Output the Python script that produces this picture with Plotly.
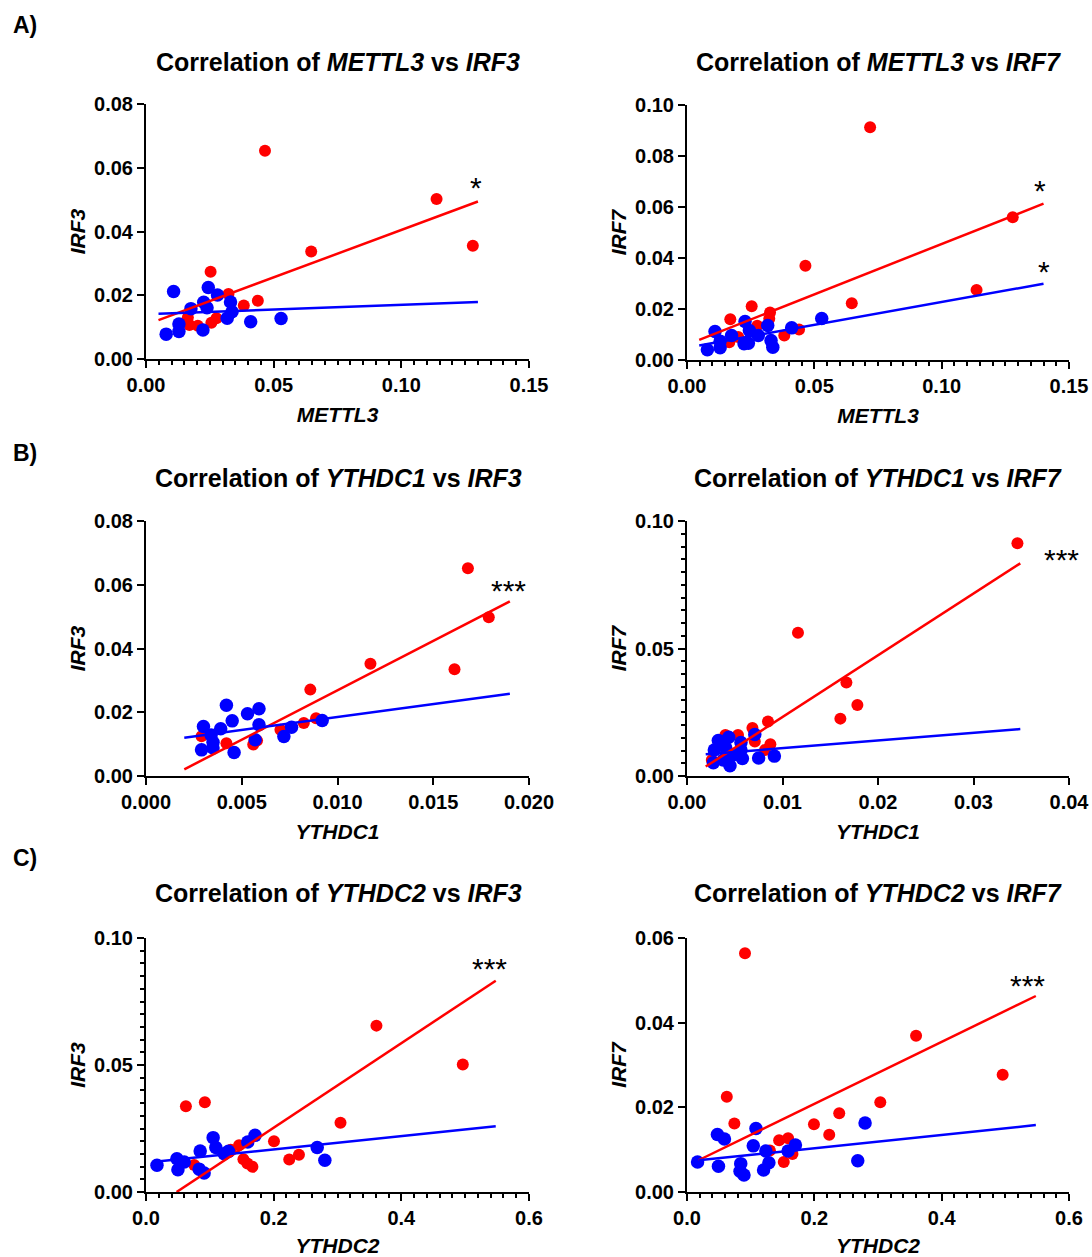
import plotly.graph_objects as go

# ---------------- Data ----------------
# Panel A1: METTL3 vs IRF3
a1_red_x = [0.0466, 0.1138, 0.1280, 0.0647, 0.0253, 0.0323, 0.0383, 0.0438, 0.0164, 0.0170, 0.0203, 0.0256, 0.0276]
a1_red_y = [0.0653, 0.0502, 0.0355, 0.0337, 0.0274, 0.0204, 0.0168, 0.0183, 0.0130, 0.0107, 0.0104, 0.0114, 0.0128]
a1_blue_x = [0.0108, 0.0244, 0.0280, 0.0176, 0.0226, 0.0239, 0.0331, 0.0337, 0.0318, 0.0410, 0.0529, 0.0129, 0.0129, 0.0079, 0.0223]
a1_blue_y = [0.0212, 0.0224, 0.0201, 0.0158, 0.0178, 0.0161, 0.0179, 0.0148, 0.0128, 0.0117, 0.0127, 0.0110, 0.0086, 0.0078, 0.0091]
a1_fit_x = [0.0049, 0.1300]
a1_fit_red_y = [0.0122, 0.0494]
a1_fit_blue_x = [0.0049, 0.1300]
a1_fit_blue_y = [0.0142, 0.0179]

# Panel A2: METTL3 vs IRF7
a2_red_x = [0.0719, 0.1279, 0.0465, 0.1137, 0.0647, 0.0254, 0.0170, 0.0326, 0.0323, 0.0276, 0.0382, 0.0440, 0.0166, 0.0201]
a2_red_y = [0.0913, 0.0560, 0.0370, 0.0275, 0.0223, 0.0211, 0.0160, 0.0186, 0.0162, 0.0134, 0.0096, 0.0120, 0.0070, 0.0090]
a2_blue_x = [0.0529, 0.0411, 0.0317, 0.0228, 0.0245, 0.0280, 0.0175, 0.0110, 0.0130, 0.0130, 0.0080, 0.0224, 0.0241, 0.0330, 0.0337]
a2_blue_y = [0.0163, 0.0126, 0.0135, 0.0151, 0.0116, 0.0096, 0.0096, 0.0112, 0.0074, 0.0048, 0.0040, 0.0064, 0.0066, 0.0076, 0.0050]
a2_fit_x = [0.0048, 0.1400]
a2_fit_red_y = [0.0079, 0.0613]
a2_fit_blue_x = [0.0048, 0.1400]
a2_fit_blue_y = [0.0057, 0.0299]

# Panel B1: YTHDC1 vs IRF3
b1_red_x = [0.01681, 0.01790, 0.01611, 0.01172, 0.00858, 0.00888, 0.00824, 0.00702, 0.00530, 0.00580, 0.00560, 0.00420, 0.00290]
b1_red_y = [0.0652, 0.0498, 0.0335, 0.0352, 0.0271, 0.0181, 0.0166, 0.0145, 0.0195, 0.0111, 0.0099, 0.0103, 0.0125]
b1_blue_x = [0.0092, 0.0076, 0.0072, 0.0059, 0.0053, 0.0059, 0.0057, 0.0042, 0.0045, 0.0039, 0.0030, 0.0034, 0.0035, 0.0035, 0.0029, 0.0046]
b1_blue_y = [0.0174, 0.0153, 0.0124, 0.0211, 0.0195, 0.0161, 0.0114, 0.0222, 0.0173, 0.0148, 0.0155, 0.0129, 0.0106, 0.0088, 0.0082, 0.0074]
b1_fit_x = [0.0020, 0.0190]
b1_fit_red_y = [0.0021, 0.0548]
b1_fit_blue_x = [0.0020, 0.0190]
b1_fit_blue_y = [0.0120, 0.0258]

# Panel B2: YTHDC1 vs IRF7
b2_red_x = [0.0346, 0.01162, 0.01669, 0.01784, 0.01606, 0.00848, 0.00685, 0.00534, 0.00402, 0.00710, 0.00873, 0.00817, 0.00260]
b2_red_y = [0.0913, 0.0562, 0.0367, 0.0278, 0.0225, 0.0214, 0.0188, 0.0161, 0.0161, 0.0135, 0.0125, 0.0102, 0.0063]
b2_blue_x = [0.0071, 0.00437, 0.00328, 0.00565, 0.00405, 0.00565, 0.00286, 0.0058, 0.0075, 0.00915, 0.00276, 0.0038, 0.0045, 0.0048]
b2_blue_y = [0.0163, 0.0152, 0.0139, 0.0131, 0.0111, 0.0102, 0.0102, 0.0069, 0.0071, 0.0078, 0.0052, 0.0063, 0.0040, 0.0082]
b2_fit_x = [0.00196, 0.0349]
b2_fit_red_y = [0.0037, 0.0834]
b2_fit_blue_x = [0.00196, 0.0349]
b2_fit_blue_y = [0.0085, 0.0184]

# Panel C1: YTHDC2 vs IRF3
c1_red_x = [0.361, 0.4963, 0.0625, 0.0922, 0.3047, 0.2005, 0.1458, 0.1328, 0.2396, 0.2244, 0.1526, 0.1589, 0.1667, 0.0755]
c1_red_y = [0.0655, 0.0502, 0.0338, 0.0353, 0.0273, 0.0200, 0.0184, 0.0166, 0.0147, 0.0128, 0.0129, 0.0112, 0.0099, 0.0106]
c1_blue_x = [0.0172, 0.0484, 0.0599, 0.0500, 0.0849, 0.0833, 0.0911, 0.1052, 0.1094, 0.1224, 0.1292, 0.1594, 0.1708, 0.2682, 0.2802]
c1_blue_y = [0.0105, 0.0131, 0.0118, 0.0088, 0.0161, 0.0090, 0.0075, 0.0214, 0.0175, 0.0151, 0.0160, 0.0197, 0.0223, 0.0175, 0.0125]
c1_fit_x = [0.0479, 0.5479]
c1_fit_red_y = [0.0, 0.0832]
c1_fit_blue_x = [0.0213, 0.5479]
c1_fit_blue_y = [0.0121, 0.0259]

# Panel C2: YTHDC2 vs IRF7
c2_red_x = [0.0911, 0.3598, 0.4958, 0.0625, 0.3036, 0.2391, 0.0744, 0.1994, 0.2234, 0.1447, 0.1588, 0.1302, 0.1656, 0.1520]
c2_red_y = [0.0564, 0.0369, 0.0277, 0.0225, 0.0212, 0.0186, 0.0162, 0.0160, 0.0135, 0.0122, 0.0127, 0.0098, 0.0090, 0.0071]
c2_blue_x = [0.0166, 0.0478, 0.0588, 0.0494, 0.1083, 0.1041, 0.0844, 0.0833, 0.0895, 0.1239, 0.1286, 0.1203, 0.1588, 0.1703, 0.2797, 0.2682]
c2_blue_y = [0.0071, 0.0136, 0.0125, 0.0061, 0.0150, 0.0109, 0.0067, 0.0049, 0.0040, 0.0097, 0.0069, 0.0052, 0.0097, 0.0111, 0.0163, 0.0074]
c2_fit_x = [0.0181, 0.5479]
c2_fit_red_y = [0.0075, 0.0463]
c2_fit_blue_x = [0.0181, 0.5479]
c2_fit_blue_y = [0.0075, 0.0158]

# Significance labels (text, x, y)
a1_sig = [("*", 0.1293, 0.0546)]
a2_sig = [("*", 0.1386, 0.0677), ("*", 0.1400, 0.0357)]
b1_sig = [("***", 0.01895, 0.0592)]
b2_sig = [("***", 0.0392, 0.0860)]
c1_sig = [("***", 0.538, 0.0893)]
c2_sig = [("***", 0.535, 0.0495)]

RED = "#FF0000"
BLUE = "#0000FF"
FONT = "Arial, Liberation Sans, Helvetica, sans-serif"

panels = [
    dict(rx=a1_red_x, ry=a1_red_y, bx=a1_blue_x, by=a1_blue_y, fx=a1_fit_x, fry=a1_fit_red_y, fbx=a1_fit_blue_x, fby=a1_fit_blue_y,
         sig=a1_sig, xg="METTL3", yg="IRF3", xr=[0, 0.15], xd=0.05, xm=0.005, xf=".2f", yr=[0, 0.08], yd=0.02, ym=None, yf=".2f",
         xdom=[146, 529], ydom=[104, 359]),
    dict(rx=a2_red_x, ry=a2_red_y, bx=a2_blue_x, by=a2_blue_y, fx=a2_fit_x, fry=a2_fit_red_y, fbx=a2_fit_blue_x, fby=a2_fit_blue_y,
         sig=a2_sig, xg="METTL3", yg="IRF7", xr=[0, 0.15], xd=0.05, xm=0.005, xf=".2f", yr=[0, 0.10], yd=0.02, ym=None, yf=".2f",
         xdom=[687, 1069], ydom=[105, 360]),
    dict(rx=b1_red_x, ry=b1_red_y, bx=b1_blue_x, by=b1_blue_y, fx=b1_fit_x, fry=b1_fit_red_y, fbx=b1_fit_blue_x, fby=b1_fit_blue_y,
         sig=b1_sig, xg="YTHDC1", yg="IRF3", xr=[0, 0.02], xd=0.005, xm=None, xf=".3f", yr=[0, 0.08], yd=0.02, ym=None, yf=".2f",
         xdom=[146, 529], ydom=[521, 776]),
    dict(rx=b2_red_x, ry=b2_red_y, bx=b2_blue_x, by=b2_blue_y, fx=b2_fit_x, fry=b2_fit_red_y, fbx=b2_fit_blue_x, fby=b2_fit_blue_y,
         sig=b2_sig, xg="YTHDC1", yg="IRF7", xr=[0, 0.04], xd=0.01, xm=None, xf=".2f", yr=[0, 0.10], yd=0.05, ym=0.005, yf=".2f",
         xdom=[687, 1069], ydom=[521, 776]),
    dict(rx=c1_red_x, ry=c1_red_y, bx=c1_blue_x, by=c1_blue_y, fx=c1_fit_x, fry=c1_fit_red_y, fbx=c1_fit_blue_x, fby=c1_fit_blue_y,
         sig=c1_sig, xg="YTHDC2", yg="IRF3", xr=[0, 0.6], xd=0.2, xm=0.02, xf=".1f", yr=[0, 0.10], yd=0.05, ym=0.005, yf=".2f",
         xdom=[146, 529], ydom=[938, 1192]),
    dict(rx=c2_red_x, ry=c2_red_y, bx=c2_blue_x, by=c2_blue_y, fx=c2_fit_x, fry=c2_fit_red_y, fbx=c2_fit_blue_x, fby=c2_fit_blue_y,
         sig=c2_sig, xg="YTHDC2", yg="IRF7", xr=[0, 0.6], xd=0.2, xm=0.02, xf=".1f", yr=[0, 0.06], yd=0.02, ym=None, yf=".2f",
         xdom=[687, 1069], ydom=[938, 1192]),
]

titles = [
    ("METTL3", "IRF3", 338, 62), ("METTL3", "IRF7", 878, 62),
    ("YTHDC1", "IRF3", 338, 478), ("YTHDC1", "IRF7", 878, 478),
    ("YTHDC2", "IRF3", 338, 893), ("YTHDC2", "IRF7", 878, 893),
]
panel_labels = [("A)", 25), ("B)", 453), ("C)", 858)]

W, H = 1092, 1257


def px_x(v):
    return v / W


def px_y(v):
    return 1 - v / H


fig = go.Figure()
layout = dict(width=W, height=H, margin=dict(l=0, r=0, t=0, b=0, autoexpand=False),
              template="none",
              paper_bgcolor="white", plot_bgcolor="white", showlegend=False,
              font=dict(family=FONT, color="black"))
annotations = []

for i, p in enumerate(panels, start=1):
    xa = "x" if i == 1 else f"x{i}"
    ya = "y" if i == 1 else f"y{i}"
    fig.add_trace(go.Scatter(x=p["rx"], y=p["ry"], mode="markers", xaxis=xa, yaxis=ya,
                             marker=dict(color=RED, size=12, line=dict(width=0)), cliponaxis=False))
    fig.add_trace(go.Scatter(x=p["bx"], y=p["by"], mode="markers", xaxis=xa, yaxis=ya,
                             marker=dict(color=BLUE, size=13.5, line=dict(width=0)), cliponaxis=False))
    fig.add_trace(go.Scatter(x=p["fx"], y=p["fry"], mode="lines", xaxis=xa, yaxis=ya,
                             line=dict(color=RED, width=2.5)))
    fig.add_trace(go.Scatter(x=p["fbx"], y=p["fby"], mode="lines", xaxis=xa, yaxis=ya,
                             line=dict(color=BLUE, width=2.5)))

    xdom = [px_x(p["xdom"][0]), px_x(p["xdom"][1])]
    ydom = [px_y(p["ydom"][1]), px_y(p["ydom"][0])]
    xkey = "xaxis" if i == 1 else f"xaxis{i}"
    ykey = "yaxis" if i == 1 else f"yaxis{i}"
    common = dict(showline=True, linewidth=2, linecolor="black", ticks="outside", ticklen=7, tickwidth=2,
                  tickcolor="black", showgrid=False, zeroline=False, fixedrange=True, automargin=False,
                  tickfont=dict(size=20, family=FONT, color="black", weight="bold"))
    xax = dict(common, domain=xdom, anchor=ya, range=p["xr"], dtick=p["xd"], tick0=0, tickformat=p["xf"],
               title=dict(text=f"<b><i>{p['xg']}</i></b>", font=dict(size=21, family=FONT), standoff=12))
    if p["xm"]:
        xax["minor"] = dict(dtick=p["xm"], tick0=0, ticks="outside", ticklen=4, tickwidth=2, tickcolor="black")
    yax = dict(common, domain=ydom, anchor=xa, range=p["yr"], dtick=p["yd"], tick0=0, tickformat=p["yf"],
               title=dict(text=f"<b><i>{p['yg']}</i></b>", font=dict(size=21, family=FONT), standoff=3))
    if p["ym"]:
        yax["minor"] = dict(dtick=p["ym"], tick0=0, ticks="outside", ticklen=4, tickwidth=2, tickcolor="black")
    layout[xkey] = xax
    layout[ykey] = yax

    for txt, sx, sy in p["sig"]:
        annotations.append(dict(text=txt, x=sx, y=sy, xref=xa, yref=ya, showarrow=False,
                                font=dict(size=30, family=FONT, color="black"), yshift=-3))

for g1, g2, cx, cy in titles:
    annotations.append(dict(text=f"<b>Correlation of <i>{g1}</i> vs <i>{g2}</i></b>",
                            x=px_x(cx), y=px_y(cy), xref="paper", yref="paper", showarrow=False,
                            xanchor="center", yanchor="middle", font=dict(size=25, family=FONT, color="black")))
for lab, cy in panel_labels:
    annotations.append(dict(text=f"<b>{lab}</b>", x=px_x(11), y=px_y(cy), xref="paper", yref="paper",
                            showarrow=False, xanchor="left", yanchor="middle",
                            font=dict(size=23, family=FONT, color="black")))

layout["annotations"] = annotations
fig.update_layout(**layout)
# Remove the browser's default page margin so the figure fills the window exactly.
fig.write_html("out.html",
               config={"displayModeBar": False},
               post_script="document.body.style.margin='0';document.body.style.overflow='hidden';"
                           "document.documentElement.style.overflow='hidden';")
